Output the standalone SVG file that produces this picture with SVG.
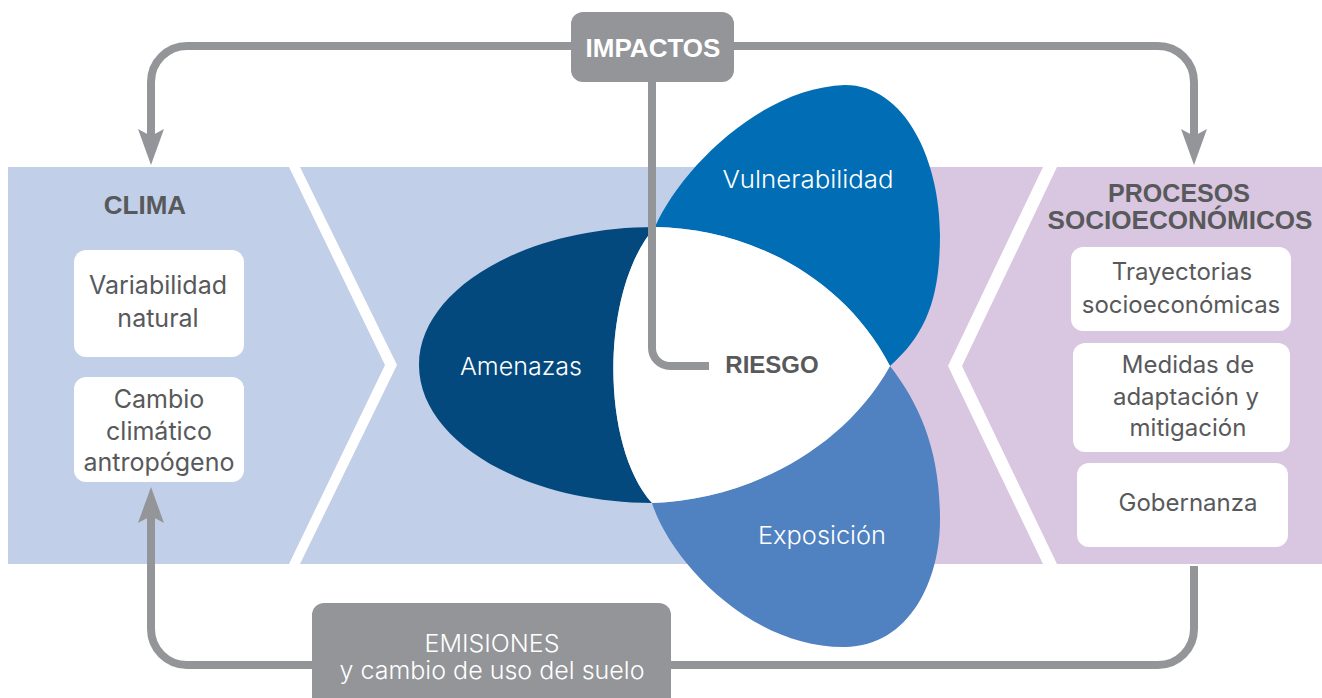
<svg xmlns="http://www.w3.org/2000/svg" width="1322" height="698" viewBox="0 0 1322 698">
<defs>
<style>
.blue{fill:#c1cfe9}
.purple{fill:#d9c6e1}
.box{fill:#ffffff}
.gbox{fill:#939598}
.conn{fill:none;stroke:#939598;stroke-width:8}
.t{font-family:Inter,"Liberation Sans",sans-serif;font-size:24px;fill:#58595b;text-anchor:middle}
.tl{font-size:25px}
.h{font-family:"Liberation Sans",Arial,sans-serif;font-weight:bold;font-size:26px;fill:#58595b;text-anchor:middle}
.w{font-family:Inter,"Liberation Sans",sans-serif;font-weight:300;font-size:24px;fill:#ffffff;text-anchor:middle}
</style>
<marker id="arr" markerUnits="userSpaceOnUse" markerWidth="40" markerHeight="30" viewBox="0 0 40 30" refX="7" refY="15" orient="auto">
<path d="M0,2 L36,15 L0,28 L7,15 Z" fill="#939598"/>
</marker>
</defs>
<rect width="1322" height="698" fill="#ffffff"/>

<g id="clima">
<path class="blue" d="M8,167 H289 L385,365 L289,564 H8 Z"/>
<text class="h" x="145" y="214">CLIMA</text>
<rect class="box" x="74" y="250" width="170" height="107" rx="12"/>
<text class="t tl" x="158" y="294">Variabilidad</text>
<text class="t tl" x="158" y="327">natural</text>
<rect class="box" x="74" y="377" width="170" height="105" rx="12"/>
<text class="t tl" x="159" y="408">Cambio</text>
<text class="t tl" x="159" y="440">climático</text>
<text class="t tl" x="159" y="471">antropógeno</text>
</g>

<g id="centro-fondo">
<path class="blue" d="M300,167 H889 V564 H300 L397,365 Z"/>
<path class="purple" d="M889,167 H1043 L948,366 L1043,564 H889 Z"/>
</g>

<g id="procesos">
<path class="purple" d="M1057,167 H1322 V564 H1057 L962,366 Z"/>
<text class="h" x="1179" y="202" style="font-size:25px" textLength="142" lengthAdjust="spacingAndGlyphs">PROCESOS</text>
<text class="h" x="1180" y="229" style="font-size:25px" textLength="265" lengthAdjust="spacingAndGlyphs">SOCIOECONÓMICOS</text>
<rect class="box" x="1071" y="247" width="220" height="84" rx="12"/>
<text class="t" x="1182" y="280">Trayectorias</text>
<text class="t" x="1181" y="313">socioeconómicas</text>
<rect class="box" x="1073" y="343" width="217" height="109" rx="12"/>
<text class="t" x="1188" y="373">Medidas de</text>
<text class="t" x="1186" y="405">adaptación y</text>
<text class="t" x="1188" y="436">mitigación</text>
<rect class="box" x="1077" y="463" width="211" height="84" rx="12"/>
<text class="t" x="1188" y="511">Gobernanza</text>
</g>

<g id="vulnerabilidad">
<path fill="#006db5" d="M655,227 C680,170 760,88 845,85 C905,85 940,160 940,235 C940,300 925,335 890,366 C840,270 740,228 655,227 Z"/>
<text class="w" x="808" y="188" textLength="171" lengthAdjust="spacingAndGlyphs">Vulnerabilidad</text>
</g>

<g id="exposicion">
<path fill="#5081c1" d="M652,503 C670,560 750,648 845,647 C910,646 940,580 940,520 C940,450 920,405 890,366 C840,455 740,500 652,503 Z"/>
<text class="w" x="822" y="544" textLength="128" lengthAdjust="spacingAndGlyphs">Exposición</text>
</g>

<g id="amenazas">
<path fill="#03497e" d="M655,227 C525,227 419,289 419,365 C419,441 525,503 652,503 C600,445 600,290 655,227 Z"/>
<text class="w" x="521" y="375" textLength="122" lengthAdjust="spacingAndGlyphs">Amenazas</text>
</g>

<g id="riesgo">
<path fill="#ffffff" d="M655,227 C740,228 840,270 890,366 C840,455 740,500 652,503 C600,445 600,290 655,227 Z"/>
<text class="h" x="772" y="373" style="font-size:24px">RIESGO</text>
</g>

<g id="connectors">
<path class="conn" d="M572,46 H187 A36,36 0 0 0 151,82 V136" marker-end="url(#arr)"/>
<path class="conn" d="M733,46 H1158 A36,36 0 0 1 1194,82 V136" marker-end="url(#arr)"/>
<path class="conn" d="M652,82 V348 A18,18 0 0 0 670,366 H709"/>
<path class="conn" d="M1194,566 V629 A36,36 0 0 1 1158,665 H671"/>
<path class="conn" d="M312,665 H187 A36,36 0 0 1 151,629 V516" marker-end="url(#arr)"/>
</g>

<g id="impactos">
<rect class="gbox" x="571" y="12" width="163" height="70" rx="12"/>
<text class="h" x="653" y="57" style="fill:#ffffff">IMPACTOS</text>
</g>

<g id="emisiones">
<rect class="gbox" x="312" y="603" width="359" height="110" rx="12"/>
<text class="w" x="492" y="652" textLength="135" lengthAdjust="spacingAndGlyphs">EMISIONES</text>
<text class="w" x="492" y="679" textLength="305" lengthAdjust="spacingAndGlyphs">y cambio de uso del suelo</text>
</g>
</svg>
